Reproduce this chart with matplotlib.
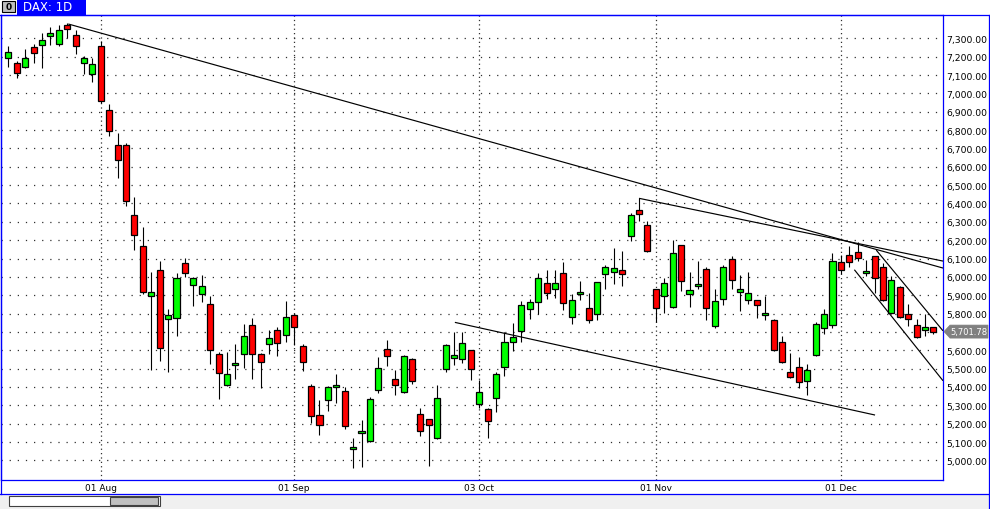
import numpy as np
import pandas as pd
import matplotlib
matplotlib.use("Agg")
import matplotlib.pyplot as plt
from matplotlib.patches import Rectangle, Polygon
from matplotlib.lines import Line2D
import matplotlib.transforms as mtransforms
from matplotlib.ticker import FuncFormatter

# ---------------- data ----------------
dates = pd.bdate_range("2011-07-15", "2011-12-16")

opens = [7191, 7164, 7145, 7253, 7265, 7311, 7271, 7372, 7316, 7164,
         7107, 7256, 6908, 6717, 6717, 6335, 6166, 5894, 6036, 5770,
         5774, 6074, 5954, 5905, 5850, 5578, 5409, 5522, 5578, 5736,
         5578, 5632, 5709, 5681, 5790, 5622, 5404, 5245, 5327, 5400,
         5376, 5062, 5147, 5104, 5382, 5605, 5442, 5371, 5551, 5251,
         5224, 5120, 5496, 5556, 5551, 5600, 5305, 5278, 5338, 5507,
         5643, 5703, 5823, 5861, 5965, 5932, 6019, 5780, 5908, 5829,
         5796, 6014, 6025, 6036, 6221, 6363, 6281, 5932, 5894, 5834,
         6172, 5905, 5948, 6041, 5731, 5878, 6096, 5916, 5872, 5872,
         5794, 5763, 5643, 5480, 5507, 5431, 5572, 5720, 5736, 6079,
         6117, 6134, 6022, 6112, 6052, 5801, 5943, 5796, 5736, 5709,
         5725]
highs = [7256, 7175, 7242, 7269, 7329, 7360, 7372, 7383, 7347, 7204,
         7191, 7287, 6940, 6782, 6728, 6434, 6270, 6025, 6085, 5825,
         6021, 6101, 5998, 6012, 5894, 5589, 5589, 5632, 5741, 5776,
         5585, 5709, 5725, 5868, 5795, 5632, 5414, 5327, 5404, 5469,
         5398, 5120, 5218, 5344, 5562, 5654, 5491, 5572, 5556, 5287,
         5226, 5409, 5636, 5698, 5698, 5602, 5436, 5283, 5480, 5698,
         5747, 5867, 5877, 6019, 6036, 6036, 6079, 5905, 5976, 5910,
         5972, 6063, 6156, 6141, 6346, 6428, 6303, 5935, 5992, 6199,
         6175, 6025, 6086, 6052, 5932, 6063, 6112, 6008, 6025, 5875,
         5894, 5769, 5676, 5583, 5562, 5523, 5752, 5823, 6128, 6120,
         6166, 6188, 6090, 6115, 6074, 6003, 5948, 5850, 5769, 5796,
         5727]
lows = [7142, 7085, 7140, 7167, 7140, 7265, 7260, 7300, 7216, 7107,
        7063, 6950, 6768, 6539, 6388, 6148, 5907, 5494, 5543, 5483,
        5676, 5998, 5843, 5865, 5525, 5336, 5405, 5445, 5505, 5445,
        5396, 5581, 5567, 5643, 5630, 5489, 5202, 5138, 5271, 5311,
        5169, 4957, 4962, 5098, 5369, 5516, 5354, 5365, 5414, 5131,
        4968, 5115, 5480, 5518, 5529, 5436, 5284, 5120, 5262, 5461,
        5598, 5647, 5769, 5796, 5878, 5883, 5818, 5741, 5872, 5747,
        5763, 5932, 5959, 5948, 6194, 6303, 6135, 5756, 5801, 5830,
        5924, 5834, 5932, 5763, 5720, 5845, 5932, 5812, 5850, 5774,
        5763, 5594, 5530, 5450, 5393, 5358, 5567, 5687, 5720, 6014,
        6052, 6085, 6003, 5910, 5868, 5796, 5775, 5731, 5668, 5676,
        5687]
closes = [7224, 7109, 7193, 7222, 7289, 7327, 7345, 7349, 7256, 7191,
          7158, 6957, 6796, 6638, 6412, 6230, 5919, 5916, 5611, 5794,
          5992, 6019, 5994, 5949, 5600, 5474, 5469, 5527, 5676, 5578,
          5534, 5665, 5638, 5780, 5725, 5534, 5240, 5191, 5398, 5405,
          5185, 5066, 5158, 5333, 5502, 5567, 5409, 5567, 5431, 5158,
          5191, 5338, 5627, 5572, 5638, 5496, 5371, 5213, 5469, 5643,
          5670, 5845, 5861, 5992, 5910, 5965, 5856, 5872, 5912, 5763,
          5970, 6052, 6047, 6014, 6335, 6341, 6139, 5829, 5965, 6128,
          5979, 5927, 5959, 5829, 5867, 6052, 5981, 5932, 5910, 5845,
          5798, 5600, 5534, 5453, 5425, 5491, 5741, 5796, 6085, 6036,
          6079, 6101, 6028, 5992, 5872, 5981, 5779, 5769, 5671, 5725,
          5701.78]

# trend lines: (start index, start price, end index, end price)
trend_x0 = [7.13, 75.0, 53.1, 103.2, 100.6]
trend_p0 = [7378, 6428, 5752, 6146, 6039]
trend_x1 = [111.14, 111.14, 103.06, 111.14, 111.14]
trend_p1 = [6048, 6086, 5247, 5706, 5434]

price_ticks = list(range(5000, 7400, 100))
title_text = "DAX: 1D"

# ---------------- figure ----------------
W, H = 990, 510
fig = plt.figure(figsize=(W / 100, H / 100), dpi=100)
fig.patch.set_facecolor("white")

def fx(x):
    return x / W

def fy(y):
    return 1 - y / H

BLUE = "#0000ff"

AX_L, AX_R, AX_T, AX_B = 1, 943, 16, 481
ax = fig.add_axes([fx(AX_L), fy(AX_B), (AX_R - AX_L) / W, (AX_B - AX_T) / H])
ax.set_facecolor("white")

n = len(opens)
idx = np.arange(n)
o = np.array(opens, float)
h = np.array(highs, float)
l = np.array(lows, float)
c = np.array(closes, float)
up = c >= o

YMIN, YMAX = 4893, 7427
ax.set_xlim(-0.868, 111.14)
ax.set_ylim(YMIN, YMAX)
ppx = (YMAX - YMIN) / (AX_B - AX_T)  # price per pixel

# wicks
ax.vlines(idx, l, h, color="black", linewidth=0.8, zorder=3)
# bodies
bottom = np.minimum(o, c)
height = np.abs(c - o)
height = np.where(height < 2 * ppx, 2 * ppx, height)
cols = np.where(up, "#00ff00", "#ff0000")
ax.bar(idx, height, bottom=bottom, width=0.72, color=cols,
       edgecolor="black", linewidth=0.9, zorder=4)

# trend lines
for x0, p0, x1, p1 in zip(trend_x0, trend_p0, trend_x1, trend_p1):
    ax.plot([x0, x1], [p0, p1], color="black", linewidth=0.85, zorder=5,
            solid_capstyle="butt")

# grid and right axis labels
hidden = round(c[-1] / 100) * 100  # label covered by the last-price tag
ax.set_yticks(price_ticks)
ax.yaxis.set_major_formatter(
    FuncFormatter(lambda v, p: "" if abs(v - hidden) < 1 else f"{v:,.2f}"))
ax.yaxis.tick_right()
ax.tick_params(axis="y", length=0, pad=2.5, labelsize=6.7, colors="black")
for v in price_ticks:
    ax.axhline(v, color="#303030", linewidth=0.9, linestyle=(0, (1, 5.5)), zorder=1)

month_pos = []
month_lab = []
for i in range(1, n):
    if dates[i].month != dates[i - 1].month:
        month_pos.append(i)
        month_lab.append(dates[i].strftime("%d %b"))
ax.set_xticks(month_pos)
ax.set_xticklabels(month_lab)
ax.tick_params(axis="x", length=0, pad=2.5, labelsize=6.5, colors="black")
for mp in month_pos:
    ax.axvline(mp, color="#303030", linewidth=0.9, linestyle=(0, (1, 2.5)), zorder=1)

for sp in ax.spines.values():
    sp.set_color(BLUE)
    sp.set_linewidth(0.9)

# last price tag (arrow-shaped grey box)
trans = mtransforms.blended_transform_factory(fig.transFigure, ax.transData)
hh = 6.5 * ppx
yc = c[-1]
tag = Polygon([(fx(944), yc), (fx(950), yc + hh), (fx(988), yc + hh),
               (fx(988), yc - hh), (fx(950), yc - hh)], closed=True,
              transform=trans, fc="#808080", ec="#808080", lw=0.5,
              clip_on=False, zorder=10)
fig.add_artist(tag)
fig.text(fx(950), yc, f"{c[-1]:,.2f}", transform=trans, ha="left", va="center",
         fontsize=6.0, color="white", zorder=11)

# figure chrome
def fline(xs, ys, **kw):
    fig.add_artist(Line2D([fx(x) for x in xs], [fy(y) for y in ys],
                          transform=fig.transFigure, **kw))

def frect(x0, y0, x1, y1, **kw):
    fig.add_artist(Rectangle((fx(x0), fy(y1)), fx(x1) - fx(x0), fy(y0) - fy(y1),
                             transform=fig.transFigure, **kw))

# bottom grey strip + scrollbar
frect(0, 495, 990, 510, fc="#f0f0f0", ec="none")
frect(9, 497, 160, 507, fc="white", ec="#404040", lw=0.8)
frect(110, 498.5, 158, 505.5, fc="#c0c0c0", ec="#404040", lw=0.8)

fline([0, 990], [495, 495], color=BLUE, lw=0.9)
fline([0, 990], [15.8, 15.8], color=BLUE, lw=0.9)
fline([988.5, 988.5], [16, 510], color=BLUE, lw=0.9)
fline([0.5, 0.5], [16, 495], color=BLUE, lw=0.9)

# title tab
frect(17, 0, 86, 15.5, fc=BLUE, ec="none")
fig.text(fx(23), fy(8), title_text, color="white", fontsize=8.5,
         ha="left", va="center")
frect(2, 2, 15, 13, fc="#c0c0c0", ec="black", lw=0.8)
fig.text(fx(8.5), fy(7.5), "0", color="black", fontsize=6.5, fontweight="bold",
         ha="center", va="center")

fig.savefig("out.png", dpi=100, facecolor="white")
